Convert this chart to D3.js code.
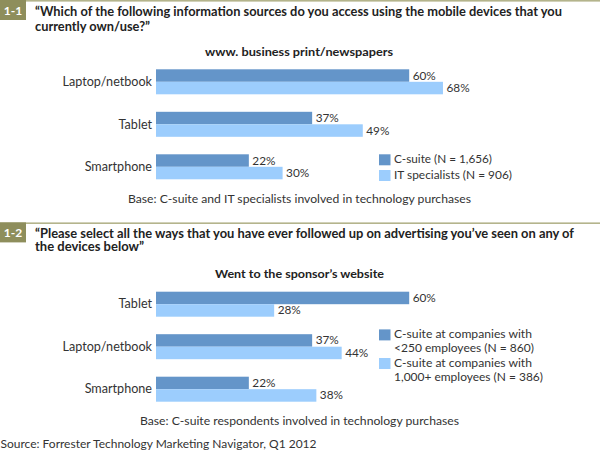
<!DOCTYPE html>
<html><head><meta charset="utf-8">
<script src="https://cdn.jsdelivr.net/npm/d3@7"></script>
<style>body{margin:0;background:#fff}svg{display:block}</style>
</head><body>
<script>
const panel1Categories = ["Laptop/netbook", "Tablet", "Smartphone"];
const panel1CSuite = [60, 37, 22];
const panel1IT = [68, 49, 30];
const panel1Legend = ["C-suite (N = 1,656)", "IT specialists (N = 906)"];

const panel2Categories = ["Tablet", "Laptop/netbook", "Smartphone"];
const panel2Small = [60, 37, 22];
const panel2Large = [28, 44, 38];
const panel2Legend = [["C-suite at companies with", "<250 employees (N = 860)"], ["C-suite at companies with", "1,000+ employees (N = 386)"]];

const W = 600, H = 453;
const FONT = "Lato, 'Open Sans', sans-serif";
const DARK = "#6495c9", LIGHT = "#9ccdfd", OLIVE = "#8e8e5c", LINE = "#b4b48c", TXT = "#333";

const svg = d3.select("body").append("svg").attr("width", W).attr("height", H)
  .style("font-family", FONT);

const x = d3.scaleLinear().domain([0, 100]).range([156, 578]);

function fit(sel, w) { if (w) sel.attr("textLength", w).attr("lengthAdjust", "spacingAndGlyphs"); }

function panel(o) {
  const g = svg.append("g").attr("transform", `translate(0,${o.top})`);
  g.append("rect").attr("x", 0).attr("y", 0).attr("width", W).attr("height", 1.6).attr("fill", LINE);
  g.append("rect").attr("x", 0).attr("y", 0).attr("width", 26).attr("height", 20).attr("fill", OLIVE);
  g.append("text").attr("x", 13).attr("y", 14.5).attr("text-anchor", "middle").attr("fill", "#fff")
    .attr("font-weight", 700).attr("font-size", 12).text(o.badge);
  o.question.forEach((q, i) => {
    const t = g.append("text").attr("x", 35).attr("y", o.qy[i]).attr("font-weight", 700)
      .attr("font-size", 12.5).attr("fill", "#222").text(q);
    fit(t, o.qw[i]);
  });
  const st = g.append("text").attr("x", o.subX).attr("y", 56).attr("font-weight", 700)
    .attr("font-size", 12).attr("fill", "#222").text(o.sub);
  fit(st, o.subW);

  const y = d3.scaleBand().domain(o.cats).range([69.3, 69.3 + 42.5 * 3 - 17.5]).paddingInner(17.5 / 42.5).paddingOuter(0);
  const ys = d3.scaleBand().domain([0, 1]).range([0, y.bandwidth()]);
  const rows = o.cats.map((c, i) => ({ c, v: [o.a[i], o.b[i]] }));
  const grp = g.selectAll("g.cat").data(rows).join("g").attr("class", "cat")
    .attr("transform", d => `translate(0,${y(d.c)})`);
  grp.append("text").attr("x", 152).attr("y", y.bandwidth() / 2 + 4.3).attr("text-anchor", "end")
    .attr("font-size", 12.6).attr("fill", TXT).text(d => d.c);
  grp.selectAll("rect").data(d => d.v).join("rect")
    .attr("x", x(0)).attr("y", (d, i) => ys(i)).attr("height", ys.bandwidth())
    .attr("width", d => x(d) - x(0)).attr("fill", (d, i) => i ? LIGHT : DARK);
  grp.selectAll("text.val").data(d => d.v).join("text").attr("class", "val")
    .attr("x", d => x(d) + 3.5).attr("y", (d, i) => ys(i) + ys.bandwidth() / 2 + 4)
    .attr("font-size", 11.8).attr("fill", TXT).text(d => d + "%");

  o.legend.forEach((L, i) => {
    const lines = Array.isArray(L) ? L : [L];
    const ly = o.legY[i];
    g.append("rect").attr("x", 379).attr("y", ly).attr("width", 11.5).attr("height", 11)
      .attr("fill", i ? LIGHT : DARK);
    lines.forEach((s, j) => {
      const t = g.append("text").attr("x", 394).attr("y", ly + 9 + j * 14).attr("font-size", 11.5)
        .attr("fill", TXT).text(s);
      fit(t, o.legW[i][j]);
    });
  });
  const bt = g.append("text").attr("x", o.baseX).attr("y", 203).attr("font-size", 12).attr("fill", TXT).text(o.base);
  fit(bt, o.baseW);
}

panel({
  top: 0, badge: "1-1",
  question: ["\u201CWhich of the following information sources do you access using the mobile devices that you", "currently own/use?\u201D"],
  qy: [16, 30.5], qw: [527, 115],
  sub: "www. business print/newspapers", subX: 205, subW: 188,
  cats: panel1Categories, a: panel1CSuite, b: panel1IT,
  legend: panel1Legend, legY: [154.3, 170], legW: [[98], [118]],
  base: "Base: C-suite and IT specialists involved in technology purchases", baseX: 128, baseW: 343
});
panel({
  top: 222.4, badge: "1-2",
  question: ["\u201CPlease select all the ways that you have ever followed up on advertising you\u2019ve seen on any of", "the devices below\u201D"],
  qy: [15.5, 29], qw: [539, 109],
  sub: "Went to the sponsor\u2019s website", subX: 215, subW: 169,
  cats: panel2Categories, a: panel2Small, b: panel2Large,
  legend: panel2Legend, legY: [107, 135.6], legW: [[138, 140], [138, 149]],
  base: "Base: C-suite respondents involved in technology purchases", baseX: 140, baseW: 319
});

const src = svg.append("text").attr("x", 0.5).attr("y", 448).attr("font-size", 12).attr("fill", TXT)
  .text("Source: Forrester Technology Marketing Navigator, Q1 2012");
fit(src, 316);
</script>
</body></html>
